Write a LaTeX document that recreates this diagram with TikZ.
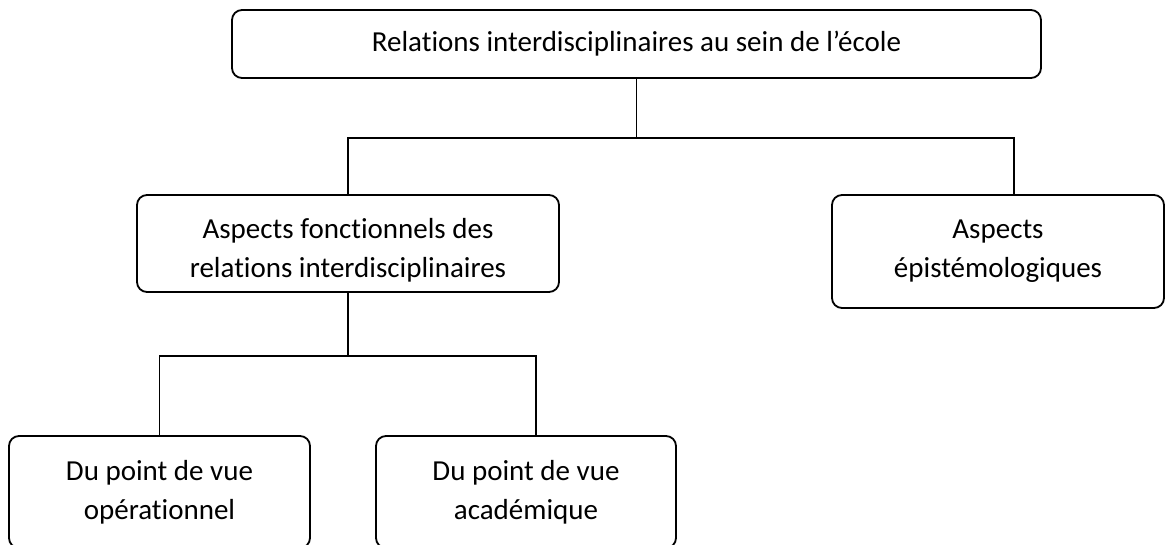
\documentclass[tikz,border=0pt]{standalone}
\usepackage{fontspec}
\setmainfont{Carlito}[Ligatures={NoCommon}]
\usepackage{tikz}
\usetikzlibrary{positioning}

\begin{document}
\begin{tikzpicture}[
    x=1pt, y=-1pt,
    box/.style={draw, rounded corners=10pt, line width=1.8pt, align=center, inner sep=0pt,
                font=\fontsize{29}{39}\selectfont},
    link/.style={line width=1.5pt},
]
\useasboundingbox (0,0) rectangle (1165,545);

% === Row 0: top box ===
\node[box, minimum width=809pt, minimum height=68pt] (ecole) at (636.5,44) {Relations interdisciplinaires au sein de l’école};

% === Row 1: aspects ===
\node[box, minimum width=422pt, minimum height=97pt] (fonct) at (348,243.5) {\rule{0pt}{34pt}Aspects fonctionnels des\\relations interdisciplinaires};
\node[box, minimum width=332pt, minimum height=113pt] (episte) at (998,251.5) {Aspects\\épistémologiques};

% === Row 2: points de vue ===
\node[box, minimum width=301pt, minimum height=112pt] (oper) at (159.5,492) {Du point de vue\\opérationnel};
\node[box, minimum width=300pt, minimum height=112pt] (acad) at (526,492) {Du point de vue\\académique};

% connectors
\coordinate (split1) at (636.5,138);
\coordinate (drop1) at (1014,195);
\coordinate (split2) at (348,356);
\coordinate (drop2) at (536,436);
\draw[link] (ecole.south) -- (split1);
\draw[link] (fonct.north) |- (split1) -| (drop1);
\draw[link] (fonct.south) -- (split2);
\draw[link] (oper.north) |- (split2) -| (drop2);

\end{tikzpicture}
\end{document}
